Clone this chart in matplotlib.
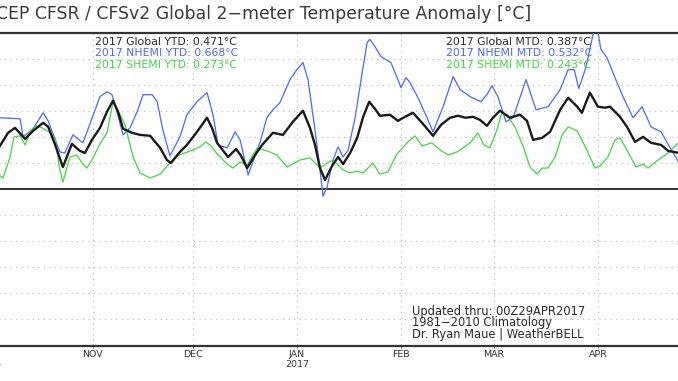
import matplotlib
matplotlib.use("Agg")
import matplotlib.pyplot as plt

# days since 1 Oct 2016
glob_days = [3.0, 5.6, 7.7, 10.7, 13.1, 16.1, 17.6, 19.7, 22.0, 24.7, 27.1, 28.6, 30.7, 33.1, 35.2, 37.0,
             38.5, 40.0, 42.7, 45.1, 48.1, 51.1, 53.1, 54.3, 57.0, 59.1, 62.1, 65.1, 66.6, 68.1, 71.4, 73.8,
             75.3, 77.1, 79.5, 81.6, 84.8, 87.8, 90.8, 93.8, 95.9, 97.4, 98.9, 100.4, 102.5, 104.3, 105.8,
             107.9, 110.0, 111.8, 113.6, 115.3, 116.8, 119.8, 122.2, 124.3, 126.7, 129.4, 132.7, 135.1,
             137.8, 140.2, 142.3, 144.7, 146.7, 148.8, 150.6, 152.7, 155.7, 158.7, 160.8, 162.6, 165.3,
             167.7, 170.7, 173.1, 175.8, 177.2, 179.6, 182.0, 184.1, 185.6, 188.6, 190.7, 193.1, 195.5,
             197.9, 200.9, 203.0, 206.3]
glob_vals = [0.327, 0.435, 0.473, 0.388, 0.450, 0.512, 0.481, 0.342, 0.172, 0.350, 0.296, 0.280, 0.381,
             0.473, 0.597, 0.682, 0.597, 0.466, 0.435, 0.419, 0.412, 0.319, 0.226, 0.203, 0.288, 0.342,
             0.442, 0.551, 0.473, 0.358, 0.249, 0.311, 0.257, 0.164, 0.265, 0.342, 0.435, 0.419, 0.520,
             0.605, 0.473, 0.342, 0.164, 0.072, 0.180, 0.249, 0.195, 0.280, 0.396, 0.558, 0.674, 0.620,
             0.566, 0.574, 0.527, 0.558, 0.589, 0.512, 0.412, 0.497, 0.551, 0.566, 0.551, 0.558, 0.535,
             0.489, 0.551, 0.605, 0.551, 0.574, 0.527, 0.381, 0.396, 0.442, 0.612, 0.705, 0.636, 0.589,
             0.744, 0.636, 0.628, 0.636, 0.558, 0.481, 0.365, 0.404, 0.358, 0.342, 0.296, 0.280]

nh_days = [3.0, 9.2, 10.1, 13.1, 16.1, 17.6, 21.1, 22.6, 25.0, 28.0, 33.1, 35.2, 36.7, 38.5, 40.0, 42.1,
           44.2, 46.0, 48.7, 50.2, 51.9, 54.0, 57.0, 59.1, 62.1, 65.1, 66.9, 68.4, 71.1, 73.5, 75.0, 77.4,
           81.0, 83.0, 84.8, 86.9, 89.9, 92.0, 93.8, 95.3, 97.4, 98.9, 99.8, 101.0, 102.8, 104.3, 105.8,
           107.3, 109.4, 111.5, 113.0, 113.8, 115.3, 117.1, 120.1, 122.2, 123.1, 124.6, 125.8, 128.2,
           130.9, 132.7, 135.7, 138.7, 140.8, 143.8, 147.0, 148.8, 150.3, 152.1, 154.5, 156.6, 159.0,
           160.5, 162.0, 163.5, 167.1, 170.7, 173.1, 174.9, 176.3, 178.4, 179.9, 181.4, 182.9, 184.7,
           187.1, 189.5, 192.5, 195.2, 197.9, 200.9, 203.6, 206.3]
nh_vals = [0.551, 0.543, 0.404, 0.466, 0.589, 0.527, 0.288, 0.280, 0.419, 0.358, 0.713, 0.751, 0.728,
           0.566, 0.419, 0.473, 0.597, 0.728, 0.728, 0.674, 0.458, 0.257, 0.404, 0.574, 0.674, 0.744,
           0.574, 0.342, 0.319, 0.442, 0.381, 0.110, 0.365, 0.551, 0.612, 0.666, 0.844, 0.921, 0.975,
           0.844, 0.458, 0.149, -0.052, 0.018, 0.226, 0.327, 0.249, 0.303, 0.551, 0.898, 1.130, 1.153,
           1.099, 1.022, 0.975, 0.844, 0.782, 0.859, 0.821, 0.705, 0.551, 0.442, 0.636, 0.867, 0.767,
           0.713, 0.674, 0.728, 0.798, 0.713, 0.520, 0.551, 0.728, 0.844, 0.728, 0.612, 0.636, 0.767,
           0.921, 0.921, 0.775, 0.937, 1.114, 1.300, 1.076, 1.014, 0.859, 0.713, 0.551, 0.636, 0.481,
           0.442, 0.319, 0.203]

sh_days = [3.0, 4.1, 6.2, 7.4, 9.2, 10.7, 12.5, 14.0, 15.8, 18.2, 19.7, 21.1, 22.0, 24.1, 26.2, 27.7,
           29.2, 30.7, 33.1, 35.2, 37.0, 39.1, 40.6, 43.0, 45.1, 48.1, 51.1, 54.0, 56.1, 58.5, 60.9, 63.0,
           64.8, 66.6, 68.1, 71.1, 72.9, 75.0, 77.1, 80.1, 83.0, 86.0, 89.0, 92.9, 95.9, 98.9, 101.0,
           102.8, 105.8, 107.9, 110.0, 111.8, 114.7, 116.8, 119.2, 121.9, 125.2, 127.3, 129.4, 132.4,
           134.8, 137.2, 139.9, 143.8, 146.1, 147.9, 149.7, 151.8, 153.3, 155.1, 157.2, 159.6, 161.7,
           163.8, 165.3, 167.1, 169.2, 171.3, 173.1, 175.8, 178.7, 181.1, 182.6, 185.0, 187.1, 188.6,
           191.0, 193.4, 195.5, 197.0, 200.0, 203.0, 206.3]
sh_vals = [0.110, 0.087, 0.249, 0.404, 0.412, 0.342, 0.458, 0.489, 0.473, 0.435, 0.381, 0.149, 0.056,
           0.249, 0.265, 0.203, 0.164, 0.226, 0.350, 0.435, 0.674, 0.574, 0.497, 0.249, 0.126, 0.087,
           0.118, 0.203, 0.257, 0.280, 0.303, 0.327, 0.365, 0.327, 0.273, 0.195, 0.164, 0.211, 0.188,
           0.319, 0.296, 0.265, 0.172, 0.226, 0.242, 0.164, 0.203, 0.226, 0.149, 0.126, 0.141, 0.126,
           0.203, 0.118, 0.134, 0.273, 0.365, 0.412, 0.334, 0.358, 0.303, 0.265, 0.288, 0.358, 0.435,
           0.342, 0.319, 0.458, 0.589, 0.558, 0.481, 0.334, 0.172, 0.118, 0.164, 0.164, 0.249, 0.419,
           0.481, 0.450, 0.303, 0.164, 0.180, 0.249, 0.381, 0.396, 0.288, 0.172, 0.195, 0.164, 0.226,
           0.280, 0.365]

tick_days = [0, 31, 61, 92, 123, 151, 182]
tick_labels = ["OCT\n2016", "NOV", "DEC", "JAN\n2017", "FEB", "MAR", "APR"]

ytd_lines = ["2017 Global YTD: 0.471°C", "2017 NHEMI YTD: 0.668°C", "2017 SHEMI YTD: 0.273°C"]
mtd_lines = ["2017 Global MTD: 0.387°C", "2017 NHEMI MTD: 0.532°C", "2017 SHEMI MTD: 0.243°C"]
credit_lines = ["Updated thru: 00Z29APR2017", "1981\u22122010 Climatology", "Dr. Ryan Maue | WeatherBELL"]
title = "NCEP CFSR / CFSv2 Global 2\u2212meter Temperature Anomaly [°C]"

W, H = 678, 381
BLACK = "#1a1a1a"
BLUE = "#5470e4"
GREEN = "#4fd24f"
TXT_COLORS = ["#2a2a2a", "#4f6ae6", "#46d246"]

fig = plt.figure(figsize=(W / 100, H / 100), dpi=100)
fig.patch.set_facecolor("white")

def fx(x):
    return x / W

def fy(y):
    return 1 - y / H

# axes geometry (pixels); axes extends past the cropped image edges
x_lo, x_hi = -5, 212
px0, ppd = -10.7, 3.344
left_px = px0 + ppd * x_lo
right_px = px0 + ppd * x_hi
top_px, bot_px = 33.3, 345.5
ax = fig.add_axes([fx(left_px), fy(bot_px), (right_px - left_px) / W, (bot_px - top_px) / H])
ax.set_xlim(x_lo, x_hi)
ax.set_ylim(-1.2, 1.2)

for s in ["left", "right"]:
    ax.spines[s].set_visible(False)
for s in ["top", "bottom"]:
    ax.spines[s].set_linewidth(1.6)
    ax.spines[s].set_color("#333333")

ax.set_yticks([i * 0.2 for i in range(-5, 6)])
ax.tick_params(axis="y", left=False, labelleft=False)
ax.set_xticks(tick_days)
ax.set_xticklabels(tick_labels, fontsize=6.8, color="#333333", linespacing=1.05)
ax.tick_params(axis="x", direction="inout", length=3, width=0.6, color="#555555", pad=2)
ax.grid(True, linestyle=(0, (1, 4)), color="#b8b8b8", linewidth=0.8)
ax.axhline(0, color="#222222", linewidth=1.3, zorder=2)

ax.plot(nh_days, nh_vals, color=BLUE, linewidth=0.95, zorder=3)
ax.plot(sh_days, sh_vals, color=GREEN, linewidth=0.95, zorder=3)
ax.plot(glob_days, glob_vals, color=BLACK, linewidth=1.7, zorder=4)

fig.text(fx(531), fy(14), title, ha="right", va="center", fontsize=12.4, color="#3a3a3a")

for i, (t, c) in enumerate(zip(ytd_lines, TXT_COLORS)):
    fig.text(fx(95), fy(42 + 11.5 * i), t, ha="left", va="center", fontsize=7.85, color=c)
for i, (t, c) in enumerate(zip(mtd_lines, TXT_COLORS)):
    fig.text(fx(446), fy(42 + 11.5 * i), t, ha="left", va="center", fontsize=7.85, color=c)
for i, t in enumerate(credit_lines):
    fig.text(fx(412), fy(311 + 11.6 * i), t, ha="left", va="center", fontsize=8.3, color="#2a2a2a")

fig.savefig("out.png", dpi=100)
